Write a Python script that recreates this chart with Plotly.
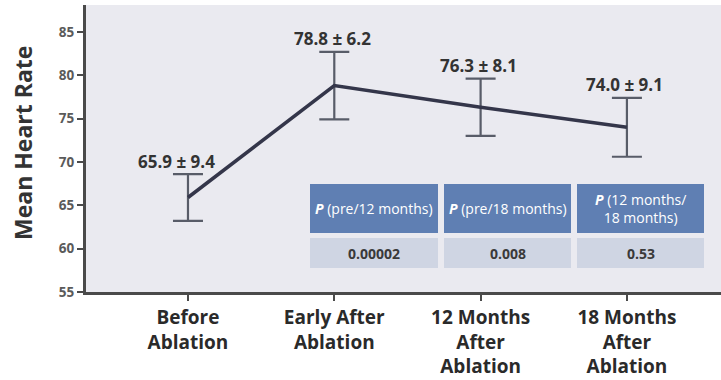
import plotly.graph_objects as go

# Mean heart rate at each stage, with SD (stated in labels) and error-bar half widths
stages = ["Before<br>Ablation", "Early After<br>Ablation",
          "12 Months<br>After<br>Ablation", "18 Months<br>After<br>Ablation"]
mean_hr = [65.9, 78.8, 76.3, 74.0]
sd_hr = [9.4, 6.2, 8.1, 9.1]
err_half = [2.7, 3.9, 3.3, 3.4]

y_ticks = [55, 60, 65, 70, 75, 80, 85]

# P-value table
p_headers = ["<b><i>P</i></b> (pre/12 months)", "<b><i>P</i></b> (pre/18 months)",
             "<b><i>P</i></b> (12 months/<br>18 months)"]
p_values = ["0.00002", "0.008", "0.53"]

FONT = "Open Sans, DejaVu Sans, sans-serif"
AXIS_COLOR = "#4a4a4a"
TEXT_COLOR = "#333333"

W, H = 721, 380
L, R, T, B = 86, 0, 5, 88
plot_w = W - L - R
plot_h = H - T - B


def px_x(px):
    return (px - L) / plot_w


def px_y(py):
    return (H - B - py) / plot_h


fig = go.Figure()
fig.add_trace(go.Scatter(
    x=stages, y=mean_hr, mode="lines",
    line=dict(color="#34364a", width=3.5),
    error_y=dict(type="data", array=err_half, visible=True,
                 color="#585c68", thickness=2.2, width=15),
    hoverinfo="skip", showlegend=False,
))

annotations = []
for i, (m, s, e) in enumerate(zip(mean_hr, sd_hr, err_half)):
    annotations.append(dict(
        x=stages[i], y=m + e, xref="x", yref="y",
        text=f"{m:.1f} \u00b1 {s:.1f}", showarrow=False,
        xanchor="center", yanchor="middle",
        yshift=13, xshift=-11 if i == 0 else -2,
        font=dict(family=FONT, size=17, color=TEXT_COLOR, weight="bold"),
    ))

annotations.append(dict(
    x=px_x(23), y=px_y(143), xref="paper", yref="paper",
    text="Mean Heart Rate", textangle=-90, showarrow=False,
    xanchor="center", yanchor="middle",
    font=dict(family=FONT, size=23, color=TEXT_COLOR, weight="bold"),
))

# table geometry (pixels)
col_edges = [(310, 438), (444, 571), (577, 704)]
head_top, head_bot = 184, 233
row_top, row_bot = 238, 268

shapes = []
for (x0, x1), head, val in zip(col_edges, p_headers, p_values):
    shapes.append(dict(type="rect", xref="paper", yref="paper",
                       x0=px_x(x0), x1=px_x(x1), y0=px_y(head_bot), y1=px_y(head_top),
                       fillcolor="#5f7fb3", line=dict(width=0), layer="above"))
    shapes.append(dict(type="rect", xref="paper", yref="paper",
                       x0=px_x(x0), x1=px_x(x1), y0=px_y(row_bot), y1=px_y(row_top),
                       fillcolor="#cfd5e3", line=dict(width=0), layer="above"))
    annotations.append(dict(
        x=px_x((x0 + x1) / 2), y=px_y((head_top + head_bot) / 2),
        xref="paper", yref="paper", text=head, showarrow=False,
        xanchor="center", yanchor="middle", align="center",
        font=dict(family=FONT, size=14, color="white"),
    ))
    annotations.append(dict(
        x=px_x((x0 + x1) / 2), y=px_y((row_top + row_bot) / 2),
        xref="paper", yref="paper", text=val, showarrow=False,
        xanchor="center", yanchor="middle",
        font=dict(family=FONT, size=14, color="#3a3a3a", weight="bold"),
    ))

fig.update_layout(
    width=W, height=H,
    margin=dict(l=L, r=R, t=T, b=B, pad=0),
    paper_bgcolor="white",
    plot_bgcolor="#eaeaf0",
    annotations=annotations,
    shapes=shapes,
    xaxis=dict(
        type="category", range=[-0.697, 3.643],
        showline=True, linecolor=AXIS_COLOR, linewidth=3,
        ticks="outside", ticklen=6, tickwidth=2, tickcolor=AXIS_COLOR,
        showgrid=False, zeroline=False,
        tickfont=dict(family=FONT, size=19, color="#2a2a2a", weight="bold"),
    ),
    yaxis=dict(
        range=[55, 88.1], tickvals=y_ticks,
        showline=True, linecolor=AXIS_COLOR, linewidth=3,
        ticks="outside", ticklen=6, tickwidth=2, tickcolor=AXIS_COLOR,
        showgrid=False, zeroline=False,
        tickfont=dict(family=FONT, size=13.5, color="#5a5a5a", weight="bold"),
    ),
)

fig.write_html("out.html")
